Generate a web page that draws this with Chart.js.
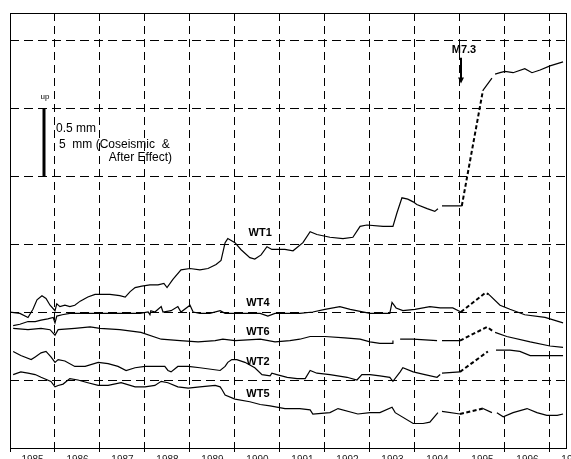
<!DOCTYPE html>
<html>
<head>
<meta charset="utf-8">
<title>WT1-WT5 records</title>
<script src="https://cdn.jsdelivr.net/npm/chart.js@4.4.0/dist/chart.umd.min.js"></script>
<style>
  html, body { margin: 0; padding: 0; background: #fff; }
  canvas { display: block; }
</style>
</head>
<body>
<canvas id="chart" width="571" height="459"></canvas>
<script>
// Axis values: decimal years on x, mm on y (one grid step = 0.5 mm)
const yearLabels = ['1985', '1986', '1987', '1988', '1989', '1990', '1991', '1992', '1993', '1994', '1995', '1996', '1997'];
const yGrid = [0.5, 1.0, 1.5, 2.0, 2.5, 3.0];
const xMin = 1985;
const xMax = 1997.378;
const yMax = 3.199;

// Series, [year, mm]; null marks a break in the record
const wt1 = [
  [1985.00, 1.00], [1985.22, 0.99], [1985.40, 0.96], [1985.51, 1.02], [1985.60, 1.09], [1985.71, 1.12],
  [1985.80, 1.10], [1985.89, 1.05], [1986.00, 1.01], [1986.04, 1.06], [1986.11, 1.04], [1986.22, 1.05],
  [1986.33, 1.04], [1986.44, 1.05], [1986.56, 1.08], [1986.73, 1.11], [1986.89, 1.13], [1987.00, 1.13],
  [1987.22, 1.13], [1987.44, 1.12], [1987.56, 1.11], [1987.67, 1.15], [1987.78, 1.18], [1987.93, 1.19],
  [1988.11, 1.20], [1988.29, 1.20], [1988.42, 1.21], [1988.49, 1.18], [1988.62, 1.24], [1988.80, 1.31],
  [1989.00, 1.32], [1989.22, 1.31], [1989.40, 1.32], [1989.58, 1.35], [1989.69, 1.38], [1989.78, 1.51],
  [1989.84, 1.54], [1990.00, 1.51], [1990.13, 1.46], [1990.33, 1.40], [1990.44, 1.39], [1990.58, 1.42],
  [1990.71, 1.48], [1990.82, 1.46], [1990.93, 1.46], [1991.11, 1.46], [1991.29, 1.45], [1991.51, 1.51],
  [1991.67, 1.59], [1991.82, 1.57], [1992.11, 1.55], [1992.40, 1.54], [1992.62, 1.55], [1992.78, 1.63],
  [1992.93, 1.64], [1993.29, 1.63], [1993.51, 1.63], [1993.60, 1.73], [1993.71, 1.84], [1993.84, 1.83],
  [1993.96, 1.81], [1994.04, 1.79], [1994.27, 1.76], [1994.44, 1.74], [1994.51, 1.76], [1994.55, null],
  [1994.60, 1.78], [1995.04, 1.78], [1995.30, null],
  [1995.51, 2.63], [1995.71, 2.72], [1995.74, null], [1995.78, 2.75], [1995.89, 2.76], [1996.00, 2.77],
  [1996.18, 2.76], [1996.44, 2.79], [1996.60, 2.76], [1996.78, 2.78], [1997.00, 2.81], [1997.29, 2.84]
];
const wt1Coseismic = [[1995.04, 1.78], [1995.51, 2.63]];

const wt4 = [
  [1985.07, 0.90], [1985.22, 0.91], [1985.40, 0.93], [1985.56, 0.93], [1985.69, 0.94], [1985.84, 0.95],
  [1985.96, 0.96], [1986.00, 0.92], [1986.04, 0.97], [1986.16, 0.98], [1986.33, 0.99], [1986.56, 0.99],
  [1986.89, 0.99], [1987.18, 0.99], [1987.44, 0.99], [1987.67, 0.99], [1987.89, 0.99], [1988.07, 1.00],
  [1988.11, 0.98], [1988.13, 1.01], [1988.22, 1.00], [1988.36, 1.04], [1988.40, 1.00], [1988.58, 1.01],
  [1988.73, 1.04], [1988.80, 1.00], [1989.00, 1.05], [1989.07, 1.00], [1989.22, 0.99], [1989.44, 0.99],
  [1989.67, 1.01], [1989.78, 0.99], [1990.00, 0.99], [1990.33, 0.99], [1990.56, 0.99], [1990.73, 0.97],
  [1990.89, 0.99], [1991.22, 0.99], [1991.44, 0.99], [1991.73, 1.00], [1992.00, 1.02], [1992.33, 1.04],
  [1992.56, 1.02], [1993.00, 0.99], [1993.22, 0.99], [1993.44, 0.99], [1993.49, 1.07], [1993.58, 1.03],
  [1993.73, 1.01], [1994.00, 1.02], [1994.33, 1.04], [1994.56, 1.03], [1994.84, 1.03], [1995.02, 1.00],
  [1995.30, null],
  [1995.64, 1.13], [1995.89, 1.05], [1996.11, 1.02], [1996.44, 0.98], [1996.89, 0.96], [1997.29, 0.92]
];
const wt4Gap = [[1995.02, 1.00], [1995.56, 1.14], [1995.64, 1.13]];

const wt6 = [
  [1985.07, 0.88], [1985.40, 0.87], [1985.69, 0.88], [1985.89, 0.87], [1986.00, 0.83], [1986.07, 0.87],
  [1986.44, 0.88], [1986.78, 0.89], [1987.00, 0.88], [1987.44, 0.87], [1987.91, 0.85], [1988.36, 0.80],
  [1988.78, 0.79], [1989.18, 0.78], [1989.56, 0.79], [1989.73, 0.80], [1990.00, 0.79], [1990.56, 0.80],
  [1990.89, 0.78], [1991.22, 0.79], [1991.44, 0.80], [1991.67, 0.82], [1992.00, 0.82], [1992.44, 0.81],
  [1992.78, 0.80], [1993.00, 0.78], [1993.22, 0.77], [1993.49, 0.77], [1993.51, 0.79], [1993.58, null],
  [1993.67, 0.80], [1993.96, 0.80], [1994.49, 0.79], [1994.55, null],
  [1994.60, 0.79], [1995.00, 0.79], [1995.30, null],
  [1995.78, 0.85], [1996.04, 0.82], [1996.56, 0.78], [1997.00, 0.75], [1997.29, 0.74]
];
const wt6Gap = [[1995.00, 0.79], [1995.60, 0.89], [1995.73, 0.86]];

const wt2 = [
  [1985.07, 0.71], [1985.24, 0.68], [1985.47, 0.65], [1985.56, 0.67], [1985.69, 0.70], [1985.80, 0.71],
  [1985.91, 0.67], [1986.00, 0.63], [1986.07, 0.65], [1986.22, 0.64], [1986.44, 0.60], [1986.67, 0.60],
  [1986.96, 0.63], [1987.18, 0.62], [1987.40, 0.60], [1987.58, 0.57], [1987.78, 0.59], [1988.00, 0.60],
  [1988.44, 0.60], [1988.51, 0.57], [1988.58, 0.56], [1988.73, 0.60], [1988.96, 0.60], [1989.22, 0.59],
  [1989.67, 0.57], [1989.78, 0.60], [1989.84, 0.63], [1989.93, 0.65], [1990.04, 0.65], [1990.22, 0.63],
  [1990.44, 0.59], [1990.60, 0.54], [1990.78, 0.53], [1990.82, 0.55], [1990.93, 0.54], [1991.16, 0.52],
  [1991.38, 0.51], [1991.56, 0.51], [1991.67, 0.57], [1991.82, 0.55], [1992.11, 0.54], [1992.49, 0.52],
  [1992.71, 0.50], [1992.82, 0.54], [1993.00, 0.54], [1993.22, 0.53], [1993.44, 0.52], [1993.51, 0.49],
  [1993.67, 0.56], [1993.73, 0.59], [1993.96, 0.56], [1994.22, 0.54], [1994.49, 0.52], [1994.56, 0.54],
  [1994.58, null],
  [1994.60, 0.55], [1995.00, 0.56], [1995.30, null],
  [1995.80, 0.72], [1996.11, 0.72], [1996.33, 0.71], [1996.56, 0.68], [1996.89, 0.68], [1997.29, 0.68]
];
const wt2Gap = [[1995.00, 0.56], [1995.62, 0.71]];

const wt5 = [
  [1985.07, 0.54], [1985.24, 0.56], [1985.40, 0.55], [1985.56, 0.54], [1985.69, 0.52], [1985.91, 0.49],
  [1986.00, 0.45], [1986.07, 0.46], [1986.18, 0.47], [1986.33, 0.51], [1986.51, 0.50], [1986.73, 0.48],
  [1986.96, 0.46], [1987.18, 0.46], [1987.47, 0.48], [1987.78, 0.45], [1988.00, 0.45], [1988.22, 0.46],
  [1988.36, 0.49], [1988.51, 0.48], [1988.73, 0.45], [1988.96, 0.44], [1989.22, 0.45], [1989.56, 0.46],
  [1989.67, 0.45], [1989.71, 0.43], [1989.78, 0.39], [1990.00, 0.36], [1990.33, 0.34], [1990.56, 0.32],
  [1990.78, 0.31], [1991.11, 0.29], [1991.44, 0.29], [1991.67, 0.28], [1991.73, 0.25], [1992.11, 0.26],
  [1992.29, 0.29], [1992.73, 0.25], [1993.00, 0.26], [1993.22, 0.26], [1993.49, 0.30], [1993.56, 0.26],
  [1993.96, 0.18], [1994.18, 0.18], [1994.33, 0.19], [1994.51, 0.26], [1994.55, null],
  [1994.60, 0.27], [1995.00, 0.25], [1995.30, null],
  [1995.51, 0.29], [1995.71, 0.26], [1995.76, null],
  [1995.82, 0.26], [1995.96, 0.23], [1996.18, 0.26], [1996.49, 0.29], [1996.71, 0.26], [1996.93, 0.24],
  [1997.16, 0.24], [1997.29, 0.25]
];
const wt5Gap = [[1995.00, 0.25], [1995.51, 0.29]];

// Text placed on the plot, in axis units
const seriesLabels = [
  { text: 'WT1', x: 1990.56, y: 1.58 },
  { text: 'WT4', x: 1990.51, y: 1.07 },
  { text: 'WT6', x: 1990.51, y: 0.85 },
  { text: 'WT2', x: 1990.51, y: 0.63 },
  { text: 'WT5', x: 1990.51, y: 0.40 }
];
const quake = { text: 'M7.3', x: 1995.02, yText: 2.93, yFrom: 2.87, yTo: 2.68 };
const scaleBar = { x: 1985.76, yFrom: 2.0, yTo: 2.5 };

const BASE_FONT = '"Liberation Sans", Arial, sans-serif';

function toXY(points) {
  return points.map(p => ({ x: p[0], y: p[1] }));
}

function lineSet(points, dashed) {
  return {
    data: toXY(points),
    borderColor: '#000',
    borderWidth: dashed ? 2 : 1.2,
    borderDash: dashed ? [4, 2.5] : [],
    pointRadius: 0,
    tension: 0,
    fill: false,
    spanGaps: false
  };
}

// Frame, labels, scale bar and earthquake arrow
const annotationsPlugin = {
  id: 'annotations',
  afterDraw(chart) {
    const { ctx, chartArea: a, scales: { x, y } } = chart;
    ctx.save();

    ctx.strokeStyle = '#000';
    ctx.lineWidth = 1;
    ctx.strokeRect(a.left + 0.5, a.top + 0.5, a.right - a.left - 1, a.bottom - a.top);

    ctx.fillStyle = '#000';
    ctx.textAlign = 'center';
    ctx.textBaseline = 'middle';
    ctx.font = 'bold 11px ' + BASE_FONT;
    seriesLabels.forEach(l => {
      ctx.fillText(l.text, x.getPixelForValue(l.x), y.getPixelForValue(l.y));
    });

    // M7.3 arrow
    const qx = Math.round(x.getPixelForValue(quake.x));
    ctx.fillText(quake.text, qx + 3, y.getPixelForValue(quake.yText));
    const qTop = y.getPixelForValue(quake.yFrom);
    const qTip = y.getPixelForValue(quake.yTo);
    ctx.lineWidth = 2;
    ctx.beginPath();
    ctx.moveTo(qx, qTop);
    ctx.lineTo(qx, qTip - 5);
    ctx.stroke();
    ctx.beginPath();
    ctx.moveTo(qx - 3, qTip - 6);
    ctx.lineTo(qx + 3, qTip - 6);
    ctx.lineTo(qx, qTip);
    ctx.closePath();
    ctx.fill();

    // scale bar
    const bx = Math.round(x.getPixelForValue(scaleBar.x));
    const bTop = y.getPixelForValue(scaleBar.yTo);
    const bBottom = y.getPixelForValue(scaleBar.yFrom);
    ctx.lineWidth = 3;
    ctx.beginPath();
    ctx.moveTo(bx, bTop);
    ctx.lineTo(bx, bBottom);
    ctx.stroke();

    ctx.font = '8px ' + BASE_FONT;
    ctx.fillText('up', bx + 1, bTop - 11);

    ctx.font = '12px ' + BASE_FONT;
    ctx.textAlign = 'left';
    ctx.fillText('0.5 mm', bx + 12, bTop + 21);
    ctx.fillText('5  mm (Coseismic  &', bx + 15, bTop + 37);
    ctx.textAlign = 'right';
    ctx.fillText('After Effect)', bx + 128, bTop + 50);

    ctx.restore();
  }
};

const whiteBackground = {
  id: 'whiteBackground',
  beforeDraw(chart) {
    const ctx = chart.ctx;
    ctx.save();
    ctx.fillStyle = '#fff';
    ctx.fillRect(0, 0, chart.width, chart.height);
    ctx.restore();
  }
};

new Chart(document.getElementById('chart'), {
  type: 'line',
  data: {
    datasets: [
      lineSet(wt1, false), lineSet(wt1Coseismic, true),
      lineSet(wt4, false), lineSet(wt4Gap, true),
      lineSet(wt6, false), lineSet(wt6Gap, true),
      lineSet(wt2, false), lineSet(wt2Gap, true),
      lineSet(wt5, false), lineSet(wt5Gap, true)
    ]
  },
  options: {
    responsive: false,
    animation: false,
    devicePixelRatio: 1,
    layout: { padding: { left: 10, top: 13, right: 4, bottom: 0 } },
    plugins: {
      legend: { display: false },
      tooltip: { enabled: false }
    },
    scales: {
      x: {
        type: 'linear',
        min: xMin,
        max: xMax,
        afterBuildTicks: (scale) => {
          const ticks = [];
          yearLabels.forEach(label => {
            const year = Number(label);
            ticks.push({ value: year });
            ticks.push({ value: year + 0.5 });
          });
          scale.ticks = ticks;
        },
        afterFit: (scale) => {
          scale.height = 11;
          scale.paddingLeft = 0;
          scale.paddingRight = 0;
        },
        ticks: {
          autoSkip: false,
          maxRotation: 0,
          minRotation: 0,
          padding: 2,
          color: '#222',
          font: { family: BASE_FONT, size: 10 },
          callback: (value) => {
            const i = Math.floor(value) - xMin;
            return value % 1 === 0.5 ? yearLabels[i] : '';
          }
        },
        grid: {
          lineWidth: 1,
          color: (ctx) => (ctx.tick && ctx.tick.value % 1 === 0 && ctx.tick.value > xMin) ? '#000' : 'rgba(0,0,0,0)',
          tickColor: (ctx) => (ctx.tick && ctx.tick.value % 1 === 0) ? '#000' : 'rgba(0,0,0,0)',
          tickLength: 4
        },
        border: { display: false, dash: [8, 5] }
      },
      y: {
        type: 'linear',
        min: 0,
        max: yMax,
        afterBuildTicks: (scale) => {
          scale.ticks = yGrid.map(v => ({ value: v }));
        },
        ticks: { display: false },
        grid: { color: '#000', lineWidth: 1, drawTicks: false },
        border: { display: false, dash: [9, 5] }
      }
    }
  },
  plugins: [whiteBackground, annotationsPlugin]
});
</script>
</body>
</html>
